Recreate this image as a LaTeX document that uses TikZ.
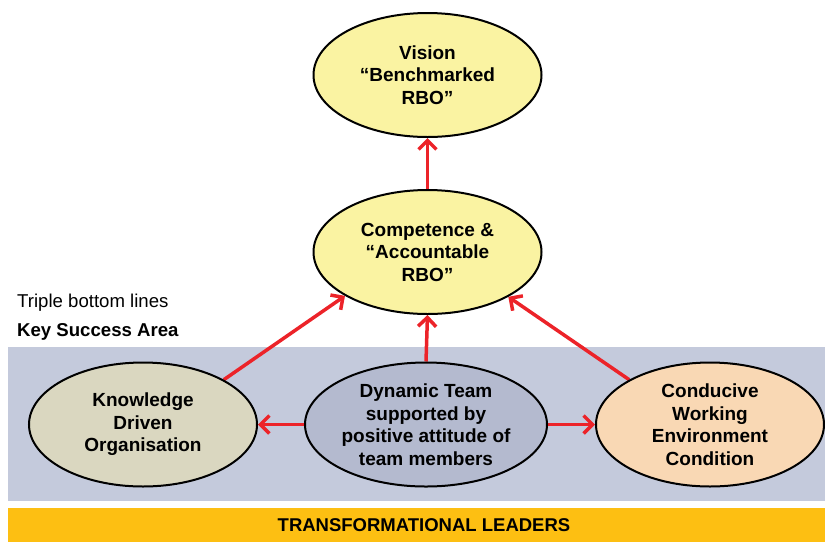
\documentclass[tikz,border=0pt]{standalone}
\usepackage{fontspec}
\setmainfont{Liberation Sans}
\usetikzlibrary{shapes.geometric,arrows.meta}
\pgfdeclarelayer{bg}
\pgfsetlayers{bg,main}
\definecolor{bandblue}{HTML}{C4CADC}
\definecolor{bandgold}{HTML}{FDBF12}
\definecolor{paleyellow}{HTML}{FAF3A2}
\definecolor{khaki}{HTML}{DAD7C0}
\definecolor{slateblue}{HTML}{B4BACF}
\definecolor{peach}{HTML}{F9D8B4}
\definecolor{linkred}{HTML}{EC2329}
\tikzset{
    bubble/.style={ellipse, draw, line width=2pt, inner sep=0mm, minimum width=228pt, minimum height=124pt,
        align=center, font=\bfseries\fontsize{19}{22.5}\selectfont},
    link/.style={draw=linkred, line width=3.5pt, -{Straight Barb[length=9pt, width=18pt]}},
    note/.style={anchor=base west, inner sep=0pt, font=\fontsize{18.6}{21}\selectfont}
}

\begin{document}
\begin{tikzpicture}[x=1pt, y=-1pt]
    \useasboundingbox (0,0) rectangle (825,542);

    \node (vis) [bubble, fill=paleyellow] at (427.5, 75) {Vision\\``Benchmarked\\RBO''};
    \node (comp) [bubble, fill=paleyellow] at (427.5, 252) {Competence \&\\``Accountable\\RBO''};
    \node (know) [bubble, fill=khaki] at (143, 424.5) {Knowledge\\Driven\\Organisation};
    \node (dyn) [bubble, fill=slateblue, minimum width=242pt] at (426, 424.5) {Dynamic Team\\supported by\\positive attitude of\\team members};
    \node (cond) [bubble, fill=peach] at (710, 424.5) {Conducive\\Working\\Environment\\Condition};

    \node (tbl) [note] at (17, 307) {Triple bottom lines};
    \node (ksa) [note, font=\bfseries\fontsize{18.6}{21}\selectfont] at (17, 336) {Key Success Area};
    \node (lead) [inner sep=0pt, font=\bfseries\fontsize{18.5}{22}\selectfont] at (424, 525.5) {TRANSFORMATIONAL LEADERS};

    \begin{pgfonlayer}{bg}
        \fill[bandblue] (8, 347) rectangle (825, 501);
        \fill[bandgold] (8, 508) rectangle (825, 542);
        \draw[link] (comp.north) -- (vis.south);
        \draw[link] (dyn.north) -- (comp.south);
        \draw[link] (know.29) -- (comp.208);
        \draw[link] (cond.151) -- (comp.331);
        \draw[link] (dyn.west) -- (know.east);
        \draw[link] (dyn.east) -- (cond.west);
    \end{pgfonlayer}
\end{tikzpicture}
\end{document}
